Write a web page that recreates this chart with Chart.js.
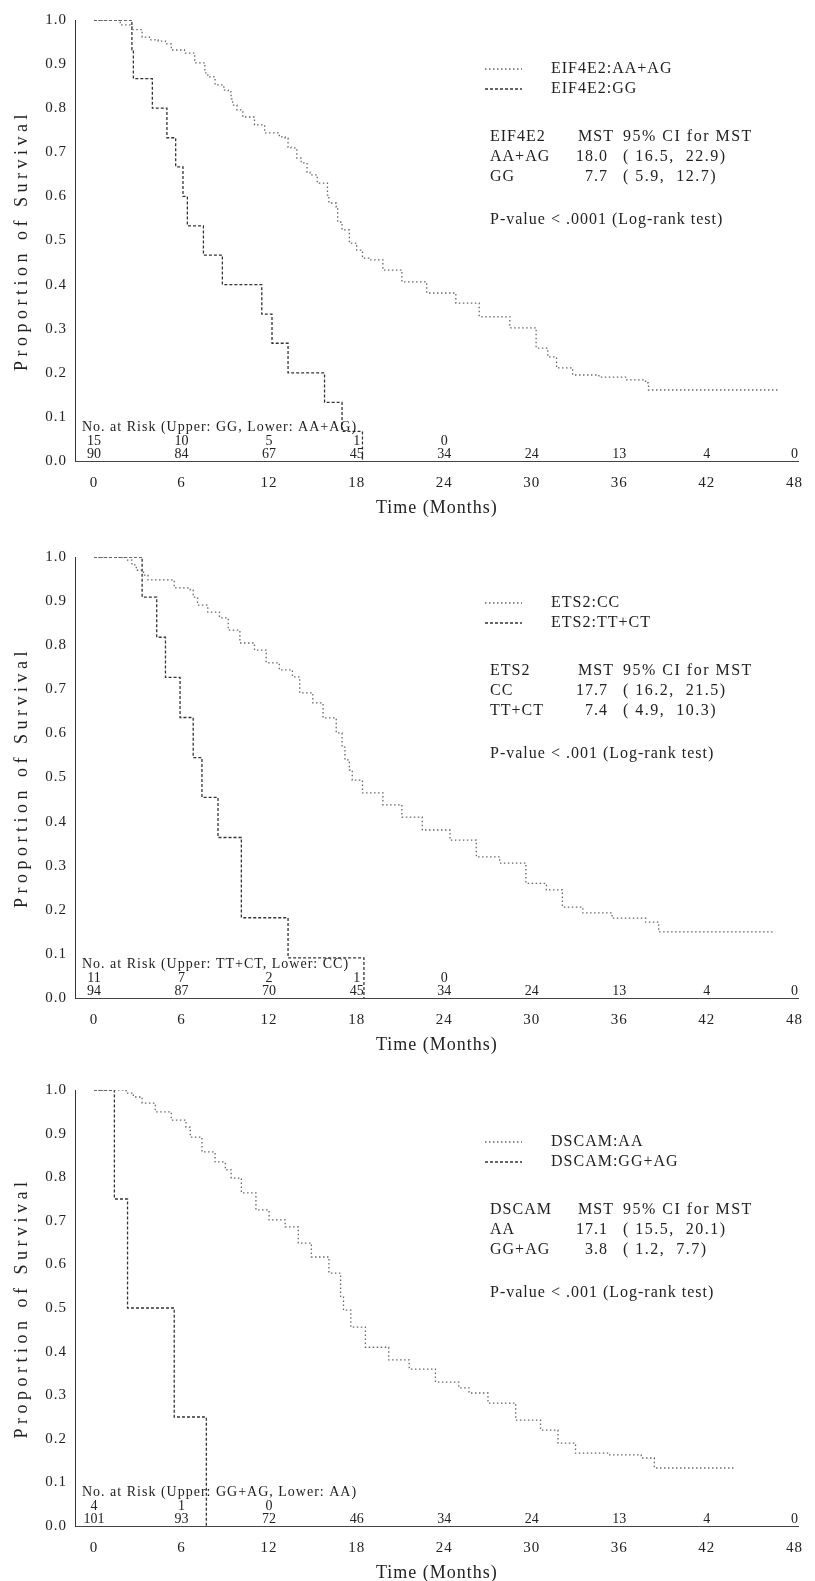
<!DOCTYPE html>
<html>
<head>
<meta charset="utf-8">
<script src="https://cdn.jsdelivr.net/npm/chart.js@4.4.1/dist/chart.umd.min.js"></script>
<style>
  html, body { margin: 0; padding: 0; background: #fff; overflow: hidden; }
  #wrap { position: relative; width: 815px; height: 1581px; }
  canvas { position: absolute; left: 0; }
</style>
</head>
<body>
<div id="wrap">
  <canvas id="c1" width="815" height="527" style="top:0px"></canvas>
  <canvas id="c2" width="815" height="527" style="top:537px"></canvas>
  <canvas id="c3" width="815" height="522" style="top:1070px"></canvas>
</div>
<script>
/* ---------- DATA ---------- */
const xTicks = [0, 6, 12, 18, 24, 30, 36, 42, 48];
const yTicks = [0, 0.1, 0.2, 0.3, 0.4, 0.5, 0.6, 0.7, 0.8, 0.9, 1.0];

// EIF4E2
const eifAATime = [0, 1.8, 2.6, 3.3, 3.8, 4.4, 4.9, 5.3, 6.2, 6.9, 7.6, 7.8, 8.3, 8.9, 9.2, 9.4, 9.5, 9.8, 10.2, 11.0,
  11.7, 12.7, 13.1, 13.3, 13.5, 13.9, 14.2, 14.6, 14.8, 15.3, 16.0, 16.1, 16.6, 16.7, 17.0, 17.5, 18.0, 18.4,
  18.9, 19.8, 21.1, 22.8, 24.8, 26.4, 28.5, 30.3, 31.1, 31.7, 32.8, 34.6, 36.5, 37.8, 38.0, 47.0];
const eifAASurv = [1, 0.989, 0.978, 0.961, 0.955, 0.952, 0.946, 0.932, 0.925, 0.903, 0.88, 0.871, 0.853, 0.841, 0.837, 0.821, 0.807, 0.796, 0.78, 0.762,
  0.744, 0.735, 0.732, 0.712, 0.71, 0.687, 0.676, 0.655, 0.649, 0.63, 0.603, 0.585, 0.576, 0.542, 0.524, 0.494, 0.478, 0.46,
  0.456, 0.433, 0.406, 0.381, 0.358, 0.327, 0.302, 0.256, 0.236, 0.211, 0.195, 0.19, 0.184, 0.177, 0.161, 0.161];
const eifGGTime = [0, 2.6, 2.7, 4.0, 5.0, 5.6, 6.1, 6.4, 7.5, 8.8, 11.5, 12.2, 13.3, 15.8, 17.0, 18.4];
const eifGGSurv = [1, 0.933, 0.867, 0.8, 0.733, 0.667, 0.6, 0.533, 0.467, 0.4, 0.333, 0.267, 0.2, 0.133, 0.067, 0];
const eifRiskUpper = [15, 10, 5, 1, 0];
const eifRiskLower = [90, 84, 67, 45, 34, 24, 13, 4, 0];
const eifLegend = ["EIF4E2:AA+AG", "EIF4E2:GG"];
const eifTable = [["EIF4E2", "MST", "95% CI for MST"], ["AA+AG", "18.0", "( 16.5,  22.9)"], ["GG", "7.7", "( 5.9,  12.7)"]];

// ETS2
const etsCCTime = [0, 2.3, 2.6, 2.9, 3.4, 3.7, 5.5, 6.6, 6.8, 7.1, 7.8, 8.6, 9.2, 10.0, 11.0, 11.8, 12.7, 13.6, 14.1, 15.0,
  15.7, 16.6, 17.0, 17.2, 17.5, 17.7, 18.4, 19.8, 21.1, 22.5, 24.4, 26.2, 27.8, 29.6, 31.0, 32.1, 33.5, 35.5, 37.8, 38.7, 46.5];
const etsCCSurv = [1, 0.993, 0.982, 0.97, 0.959, 0.948, 0.93, 0.925, 0.909, 0.891, 0.875, 0.862, 0.834, 0.805, 0.789, 0.76, 0.744, 0.728, 0.692, 0.669,
  0.635, 0.601, 0.569, 0.54, 0.517, 0.494, 0.465, 0.438, 0.41, 0.381, 0.358, 0.32, 0.306, 0.26, 0.245, 0.206, 0.193, 0.181, 0.172, 0.15, 0.15];
const etsTTTime = [0, 3.3, 4.3, 4.9, 5.9, 6.8, 7.4, 8.5, 10.1, 13.3, 18.5];
const etsTTSurv = [1, 0.909, 0.818, 0.727, 0.636, 0.545, 0.455, 0.364, 0.182, 0.091, 0];
const etsRiskUpper = [11, 7, 2, 1, 0];
const etsRiskLower = [94, 87, 70, 45, 34, 24, 13, 4, 0];
const etsLegend = ["ETS2:CC", "ETS2:TT+CT"];
const etsTable = [["ETS2", "MST", "95% CI for MST"], ["CC", "17.7", "( 16.2,  21.5)"], ["TT+CT", "7.4", "( 4.9,  10.3)"]];

// DSCAM
const dsAATime = [0, 2.2, 2.7, 3.3, 4.2, 5.3, 6.3, 6.6, 7.4, 8.3, 9.0, 9.4, 10.1, 11.1, 12.0, 13.1, 14.0, 14.9, 16.1, 16.9,
  17.1, 17.6, 18.6, 20.2, 21.6, 23.4, 25.0, 25.7, 27.0, 28.9, 30.6, 31.8, 33.0, 35.2, 37.5, 38.4, 44.0];
const dsAASurv = [1, 0.993, 0.984, 0.97, 0.95, 0.931, 0.915, 0.892, 0.858, 0.835, 0.817, 0.798, 0.764, 0.725, 0.702, 0.686, 0.649, 0.617, 0.58, 0.525,
  0.495, 0.456, 0.41, 0.381, 0.36, 0.33, 0.317, 0.305, 0.282, 0.243, 0.22, 0.19, 0.167, 0.163, 0.156, 0.133, 0.133];
const dsGGTime = [0, 1.4, 2.3, 5.5, 7.7];
const dsGGSurv = [1, 0.75, 0.5, 0.25, 0];
const dsRiskUpper = [4, 1, 0];
const dsRiskLower = [101, 93, 72, 46, 34, 24, 13, 4, 0];
const dsLegend = ["DSCAM:AA", "DSCAM:GG+AG"];
const dsTable = [["DSCAM", "MST", "95% CI for MST"], ["AA", "17.1", "( 15.5,  20.1)"], ["GG+AG", "3.8", "( 1.2,  7.7)"]];

/* ---------- STYLE ---------- */
const FONT = '"Liberation Serif", "DejaVu Serif", serif';
const INK = "#222";
const styleA = { color: "#666", dash: [1.5, 2.5] };   // upper curve
const styleB = { color: "#333", dash: [3, 2] };       // lower curve

function toPoints(t, s) {
  return t.map((v, i) => ({ x: v, y: s[i] }));
}

function txt(ctx, s, x, y, size, align, spacing) {
  ctx.font = size + "px " + FONT;
  ctx.letterSpacing = (spacing || 0) + "px";
  ctx.textAlign = align || "left";
  ctx.textBaseline = "middle";
  ctx.fillText(s, x, y);
}

function makeAnnot(p) {
  return {
    id: "annot" + p.id,
    beforeDraw(chart) {
      chart.ctx.letterSpacing = "1px";
    },
    afterDraw(chart) {
      const ctx = chart.ctx;
      const a = chart.chartArea;
      const xs = chart.scales.x;
      ctx.save();
      ctx.fillStyle = INK;

      // y-axis title
      ctx.save();
      ctx.translate(22, (a.top + a.bottom) / 2);
      ctx.rotate(-Math.PI / 2);
      txt(ctx, "Proportion of Survival", 0, 0, 18, "center", 4.5);
      ctx.restore();

      // legend
      const t0 = a.top + p.shift;
      [styleA, styleB].forEach((st, i) => {
        const y = t0 + 49 + i * 20;
        ctx.save();
        ctx.strokeStyle = st.color;
        ctx.lineWidth = 1.3;
        ctx.setLineDash(st.dash);
        ctx.beginPath();
        ctx.moveTo(485, y);
        ctx.lineTo(522, y);
        ctx.stroke();
        ctx.restore();
        txt(ctx, p.legend[i], 551, y, 16, "left", 1);
      });

      // MST table
      p.table.forEach((row, i) => {
        const y = t0 + 117 + i * 20;
        txt(ctx, row[0], 490, y, 16, "left", 1);
        if (i === 0) txt(ctx, row[1], 578, y, 16, "left", 1);
        else txt(ctx, row[1], 608, y, 16, "right", 1);
        txt(ctx, row[2], 623, y, 16, "left", 1.5);
      });
      txt(ctx, p.pval, 490, t0 + 200, 16, "left", 1);

      // number at risk
      txt(ctx, p.riskTitle, 82, a.bottom - 34, 14, "left", 1);
      p.upper.forEach((n, i) => txt(ctx, String(n), xs.getPixelForValue(xTicks[i]), a.bottom - 20, 14, "center", 0));
      p.lower.forEach((n, i) => txt(ctx, String(n), xs.getPixelForValue(xTicks[i]), a.bottom - 7, 14, "center", 0));
      ctx.restore();
    }
  };
}

function makeChart(canvasId, p) {
  const ctx = document.getElementById(canvasId).getContext("2d");
  return new Chart(ctx, {
    type: "line",
    data: {
      datasets: [
        { label: p.legend[0], data: toPoints(p.aT, p.aS), stepped: true, borderColor: styleA.color,
          borderDash: styleA.dash, borderWidth: 1.3, pointRadius: 0, fill: false },
        { label: p.legend[1], data: toPoints(p.bT, p.bS), stepped: true, borderColor: styleB.color,
          borderDash: styleB.dash, borderWidth: 1.3, pointRadius: 0, fill: false }
      ]
    },
    options: {
      responsive: false,
      animation: false,
      devicePixelRatio: 1,
      events: [],
      layout: { padding: { top: 20, right: 15, left: 0, bottom: 0 } },
      plugins: { legend: { display: false }, tooltip: { enabled: false } },
      scales: {
        x: {
          type: "linear", min: -1.3, max: 48.3,
          afterBuildTicks: s => { s.ticks = xTicks.map(v => ({ value: v })); },
          afterFit: s => { s.height = 66; },
          ticks: { callback: v => String(v), font: { family: FONT, size: 15 }, color: INK, padding: 13, maxRotation: 0, autoSkip: false },
          grid: { display: false, drawTicks: false },
          border: { display: true, color: "#444", dash: [1, 3], width: 1 },
          title: { display: true, text: "Time (Months)", font: { family: FONT, size: 18 }, color: INK, padding: { top: 0, bottom: 8 } }
        },
        y: {
          type: "linear", min: 0, max: 1,
          afterBuildTicks: s => { s.ticks = yTicks.map(v => ({ value: v })); },
          afterFit: s => { s.width = 75; },
          ticks: { callback: v => v.toFixed(1), font: { family: FONT, size: 15 }, color: INK, padding: 8 },
          grid: { display: false, drawTicks: false },
          border: { display: true, color: "#333", dash: [1.5, 2], width: 1 }
        }
      }
    },
    plugins: [makeAnnot(p)]
  });
}

makeChart("c1", { id: 1, shift: 0, aT: eifAATime, aS: eifAASurv, bT: eifGGTime, bS: eifGGSurv,
  legend: eifLegend, table: eifTable, pval: "P-value < .0001 (Log-rank test)",
  riskTitle: "No. at Risk (Upper: GG, Lower: AA+AG)", upper: eifRiskUpper, lower: eifRiskLower });

makeChart("c2", { id: 2, shift: -3, aT: etsCCTime, aS: etsCCSurv, bT: etsTTTime, bS: etsTTSurv,
  legend: etsLegend, table: etsTable, pval: "P-value < .001 (Log-rank test)",
  riskTitle: "No. at Risk (Upper: TT+CT, Lower: CC)", upper: etsRiskUpper, lower: etsRiskLower });

makeChart("c3", { id: 3, shift: 3, aT: dsAATime, aS: dsAASurv, bT: dsGGTime, bS: dsGGSurv,
  legend: dsLegend, table: dsTable, pval: "P-value < .001 (Log-rank test)",
  riskTitle: "No. at Risk (Upper: GG+AG, Lower: AA)", upper: dsRiskUpper, lower: dsRiskLower });
</script>
</body>
</html>
